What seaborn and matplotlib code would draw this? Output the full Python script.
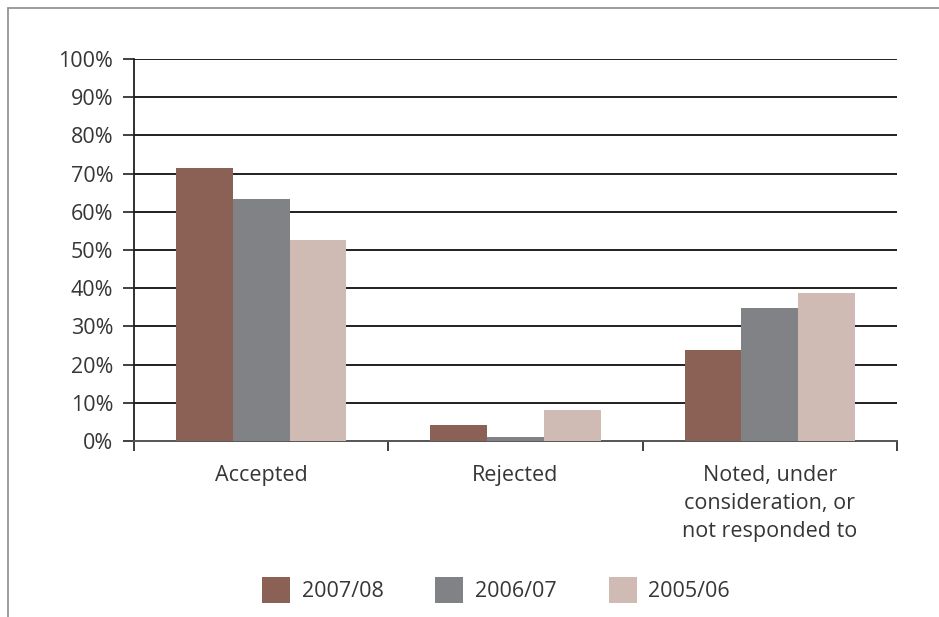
import matplotlib
matplotlib.use("Agg")
import matplotlib.pyplot as plt
from matplotlib.lines import Line2D
from matplotlib.patches import Patch
import pandas as pd
import seaborn as sns

# Share of recommendations by response, for three reporting years
categories = ["Accepted", "Rejected", "Noted, under\nconsideration, or\nnot responded to"]
years = ["2007/08", "2006/07", "2005/06"]
values_2007_08 = [71.5, 4.2, 23.8]
values_2006_07 = [63.4, 1.0, 34.8]
values_2005_06 = [52.6, 8.1, 38.7]
colors = ["#8a6154", "#818286", "#cfbbb3"]
y_ticks = [0, 10, 20, 30, 40, 50, 60, 70, 80, 90, 100]

sns.set_theme(style="white")
plt.rcParams["font.family"] = ["Open Sans", "DejaVu Sans"]
text_color = "#363636"
fs = 15.5

rows = []
for year, vals in zip(years, [values_2007_08, values_2006_07, values_2005_06]):
    for cat, v in zip(categories, vals):
        rows.append({"category": cat, "year": year, "value": v})
df = pd.DataFrame(rows)

fig = plt.figure(figsize=(9.39, 6.17), dpi=100)
ax = fig.add_axes([134 / 939, 1 - 441 / 617, (897 - 134) / 939, (441 - 59) / 617])

sns.barplot(data=df, x="category", y="value", hue="year", order=categories,
            hue_order=years, palette=colors, width=0.67, saturation=1,
            edgecolor="none", linewidth=0, legend=False, ax=ax, zorder=3)

ax.set_xlim(-0.5, 2.5)
ax.set_ylim(0, 100)
ax.set_xlabel("")
ax.set_ylabel("")

# horizontal gridlines
for t in y_ticks[1:]:
    ax.axhline(t, color="#231f20", lw=1.4, zorder=1)

ax.set_yticks(y_ticks)
ax.set_yticklabels([f"{t}%" for t in y_ticks], fontsize=fs, color=text_color)
ax.tick_params(axis="y", direction="out", length=8, width=1.2, color="#231f20",
               pad=7, left=True)

# category labels centred under each group, ticks on group boundaries
ax.set_xticks([-0.5, 0.5, 1.5, 2.5])
ax.set_xticklabels([])
ax.tick_params(axis="x", direction="out", length=7, width=1.2, color="#231f20", bottom=True)
for i, cat in enumerate(categories):
    ax.text(i, -6.4, cat, ha="center", va="top", fontsize=fs, color=text_color,
            linespacing=1.42, transform=ax.transData)

for s in ["top", "right"]:
    ax.spines[s].set_visible(False)
ax.spines["left"].set_color("#231f20")
ax.spines["left"].set_linewidth(1.3)
ax.spines["bottom"].set_color("#555555")
ax.spines["bottom"].set_linewidth(1.4)

handles = [Patch(facecolor=c, edgecolor="none") for c in colors]
fig.legend(handles, years, loc="center", bbox_to_anchor=(496 / 939, 1 - 590 / 617),
           ncol=3, frameon=False, fontsize=fs, handlelength=1.3, handleheight=1.45,
           handletextpad=0.55, columnspacing=2.4, labelcolor=text_color)

# thin frame lines along the top and left edges of the figure
fig.add_artist(Line2D([8 / 939, 1], [1 - 8 / 617, 1 - 8 / 617], color="#8c8c8c", lw=1.2,
                      transform=fig.transFigure))
fig.add_artist(Line2D([8 / 939, 8 / 939], [0, 1 - 8 / 617], color="#8c8c8c", lw=1.2,
                      transform=fig.transFigure))

fig.savefig("out.png", dpi=100)
